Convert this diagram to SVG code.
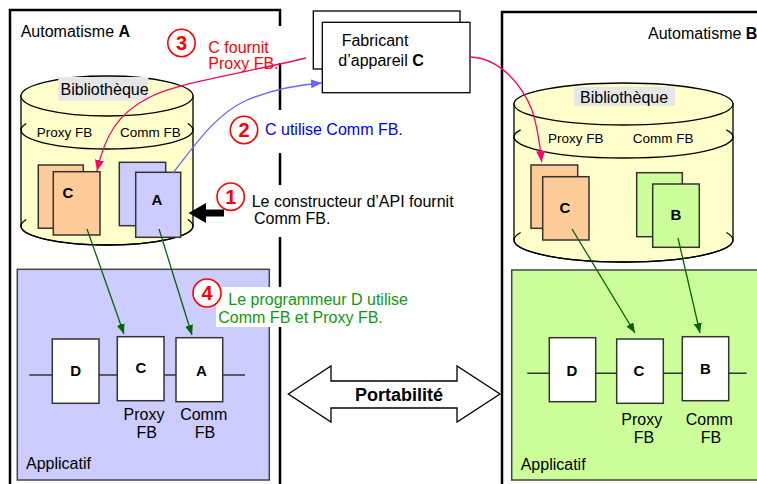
<svg xmlns="http://www.w3.org/2000/svg" width="757" height="484" viewBox="0 0 757 484">
<style>
text{font-family:"Liberation Sans",Arial,sans-serif;font-size:16px;fill:#000}
.b{font-weight:bold}
.sm{font-size:13.5px}
.frame{fill:none;stroke:#000;stroke-width:2.5}
.cyl{fill:#FFFFCC;stroke:#000;stroke-width:1.3}
.line{fill:none;stroke:#000;stroke-width:1.3}
.lbl{fill:#E6E6E6}
.or{fill:#FFCC99;stroke:#333;stroke-width:1.5}
.pu{fill:#CCCCFF;stroke:#333;stroke-width:1.5}
.gr{fill:#CCFF99;stroke:#333;stroke-width:1.5}
.blk{fill:#fff;stroke:#333;stroke-width:1.5}
.wire{stroke:#333;stroke-width:1.5}
.wb{fill:#fff}
.num{fill:#fff;stroke:#FF0000;stroke-width:1.6}
.numt{fill:#FF0000;font-weight:bold;font-size:20px;text-anchor:middle}
.mid{text-anchor:middle}
.green{stroke:#006600;stroke-width:1.3;fill:none}
.red{fill:#FF0000}
.blue{fill:#0000FF}
.gtx{fill:#119911}
</style>
<defs>
<marker id="ag" markerWidth="10" markerHeight="8" refX="10" refY="4" orient="auto" markerUnits="userSpaceOnUse"><path d="M0,0 L10,4 L0,8 z" fill="#006600"/></marker>
<marker id="ap" markerWidth="11" markerHeight="9" refX="11" refY="4.5" orient="auto" markerUnits="userSpaceOnUse"><path d="M0,0 L11,4.5 L0,9 z" fill="#FF0066"/></marker>
<marker id="ab" markerWidth="11" markerHeight="9" refX="11" refY="4.5" orient="auto" markerUnits="userSpaceOnUse"><path d="M0,0 L11,4.5 L0,9 z" fill="#6666FF"/></marker>
</defs>

<g id="frameA">
<rect class="frame" x="10" y="10" width="270" height="490"/>
<text x="20.7" y="36.7">Automatisme <tspan class="b">A</tspan></text>
</g>
<g id="frameB">
<rect class="frame" x="502" y="12" width="300" height="490"/>
<text x="648" y="39.3">Automatisme <tspan class="b">B</tspan></text>
</g>

<g id="fabricant">
<rect x="313.3" y="11" width="146.7" height="58" fill="#fff" stroke="#000" stroke-width="1.3"/>
<rect x="322.3" y="22.3" width="147.7" height="70.4" fill="#fff" stroke="#000" stroke-width="1.3"/>
<text x="341.7" y="46">Fabricant</text>
<text x="338.3" y="65.7">d’appareil <tspan class="b">C</tspan></text>
</g>

<g id="applicatifA">
<rect x="17.3" y="269.3" width="252" height="210.7" fill="#CCCCFF" stroke="#444" stroke-width="1.5"/>
<line class="wire" x1="29.3" y1="375" x2="245" y2="375"/>
<rect class="blk" x="52.3" y="339" width="46.7" height="64.3"/>
<rect class="blk" x="117.3" y="336.7" width="46.7" height="64"/>
<rect class="blk" x="176" y="337.7" width="46.7" height="64"/>
<text class="b mid" x="75.7" y="375.5" style="font-size:15px">D</text>
<text class="b mid" x="141" y="372.5" style="font-size:15px">C</text>
<text class="b mid" x="201.5" y="375.5" style="font-size:15px">A</text>
<text class="mid" x="144" y="420">Proxy</text>
<text class="mid" x="146.7" y="438.3">FB</text>
<text class="mid" x="203.7" y="420">Comm</text>
<text class="mid" x="205" y="438.3">FB</text>
<text x="26" y="469">Applicatif</text>
</g>

<g id="applicatifB">
<rect x="511.7" y="270" width="260" height="210" fill="#CCFF99" stroke="#444" stroke-width="1.5"/>
<line class="wire" x1="527.3" y1="373.3" x2="746.7" y2="373.3"/>
<rect class="blk" x="549.3" y="337.7" width="46.4" height="64"/>
<rect class="blk" x="616.7" y="339" width="46.6" height="64.3"/>
<rect class="blk" x="682.3" y="336.7" width="46.4" height="64"/>
<text class="b mid" x="572" y="375.5" style="font-size:15px">D</text>
<text class="b mid" x="639" y="375.5" style="font-size:15px">C</text>
<text class="b mid" x="705.5" y="373.5" style="font-size:15px">B</text>
<text class="mid" x="641.7" y="425">Proxy</text>
<text class="mid" x="644" y="442.7">FB</text>
<text class="mid" x="709.3" y="425">Comm</text>
<text class="mid" x="711" y="442.7">FB</text>
<text x="520.7" y="470">Applicatif</text>
</g>

<g id="bibliothequeA">
<path class="cyl" d="M21,96 L21,226 A86,19 0 0 0 193,226 L193,96 Z"/>
<ellipse class="cyl" cx="107" cy="96" rx="86" ry="20"/>
<path class="line" d="M26.2,123.5 A86,19 0 1 0 187.8,123.5"/>
<path class="line" d="M26.2,219.5 A86,19 0 1 0 187.8,219.5"/>
<rect class="lbl" x="58.3" y="77" width="90" height="23.7"/>
<text x="60.5" y="95">Bibliothèque</text>
<text class="sm" x="36.7" y="136.7">Proxy FB</text>
<text class="sm" x="120" y="136.7">Comm FB</text>
<rect class="or" x="38.3" y="165" width="45" height="63.2"/>
<rect class="or" x="53.3" y="171.7" width="46.7" height="63.3"/>
<text class="b mid" x="68" y="198" style="font-size:15px">C</text>
<rect class="pu" x="119.3" y="162.3" width="46.4" height="63.4"/>
<rect class="pu" x="135.7" y="172.3" width="45" height="65"/>
<text class="b mid" x="157" y="205" style="font-size:15px">A</text>
</g>

<g id="bibliothequeB">
<path class="cyl" d="M514,104 L514,240 A109.5,22 0 0 0 733,240 L733,104 Z"/>
<ellipse class="cyl" cx="623.5" cy="104" rx="109.5" ry="21"/>
<path class="line" d="M520.6,129.8 A109.5,21 0 1 0 726.4,129.8"/>
<path class="line" d="M520.6,232.5 A109.5,22 0 1 0 726.4,232.5"/>
<rect class="lbl" x="574" y="86.7" width="101" height="19"/>
<text x="580" y="103">Bibliothèque</text>
<text class="sm" x="548" y="142.7">Proxy FB</text>
<text class="sm" x="632.7" y="142.7">Comm FB</text>
<rect class="or" x="531" y="165" width="46.7" height="63.3"/>
<rect class="or" x="542.7" y="176.7" width="46.3" height="63.3"/>
<text class="b mid" x="565" y="213" style="font-size:15px">C</text>
<rect class="gr" x="636.7" y="172.7" width="45.6" height="64"/>
<rect class="gr" x="652.7" y="184" width="46.6" height="63.3"/>
<text class="b mid" x="676" y="220" style="font-size:15px">B</text>
</g>

<g id="note3">
<rect class="wb" x="164" y="26" width="120" height="37"/>
<circle class="num" cx="181.5" cy="43" r="13.7"/>
<text class="numt" x="181.5" y="50">3</text>
<text class="red" x="208.3" y="52.5">C fournit</text>
<text class="red" x="208.3" y="68.5">Proxy FB.</text>
</g>
<g id="note2">
<rect class="wb" x="228" y="110" width="180" height="43"/>
<circle class="num" cx="244" cy="130" r="13.7"/>
<text class="numt" x="244" y="137">2</text>
<text class="blue" x="265" y="134.5">C utilise Comm FB.</text>
</g>
<g id="note1">
<rect class="wb" x="214" y="185" width="250" height="52"/>
<circle class="num" cx="230.7" cy="196.7" r="13.7"/>
<text class="numt" x="230.7" y="203.7">1</text>
<text x="251.7" y="206.7">Le constructeur d’API fournit</text>
<text x="254" y="224">Comm FB.</text>
<polygon points="188.5,213 206,203 206,209.5 224,209.5 224,216.5 206,216.5 206,223" fill="#000"/>
</g>
<g id="note4">
<rect class="wb" x="216" y="287" width="194" height="40"/>
<circle class="num" cx="207" cy="293" r="14"/>
<text class="numt" x="207" y="300">4</text>
<text class="gtx" x="228.3" y="305">Le programmeur D utilise</text>
<text class="gtx" x="218.3" y="323.3">Comm FB et Proxy FB.</text>
</g>

<g id="portabilite">
<polygon points="288.3,394 331,366 331,381 457,381 457,366 500,394 457,422 457,408 331,408 331,422" fill="#fff" stroke="#000" stroke-width="1.3"/>
<text class="b mid" x="399" y="401" style="font-size:18px">Portabilité</text>
</g>

<g id="connectors">
<path d="M306,58 C250,72 180,82 150,97 C118,113 105,135 97,171" fill="none" stroke="#FF0066" stroke-width="1.3" marker-end="url(#ap)"/>
<path d="M470,57 C500,58 522,85 532,110 C538,128 540,145 541.7,162" fill="none" stroke="#FF0066" stroke-width="1.3" marker-end="url(#ap)"/>
<path d="M173,173 C195,145 215,115 245,101 C270,90 295,85 322,83" fill="none" stroke="#6666FF" stroke-width="1.3" marker-end="url(#ab)"/>
<line class="green" x1="87" y1="229" x2="124" y2="334" marker-end="url(#ag)"/>
<line class="green" x1="159" y1="229" x2="192" y2="335" marker-end="url(#ag)"/>
<line class="green" x1="572" y1="229" x2="635" y2="333" marker-end="url(#ag)"/>
<line class="green" x1="678" y1="238" x2="700" y2="333" marker-end="url(#ag)"/>
</g>
</svg>
